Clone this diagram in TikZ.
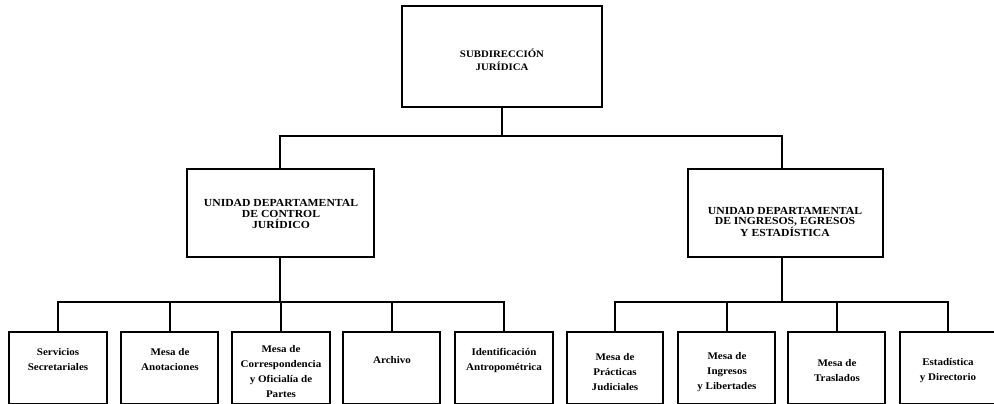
\documentclass[tikz,border=0pt]{standalone}
\usepackage{fontspec}
\setmainfont{Liberation Serif}[FakeStretch=1.08]
\begin{document}
\begin{tikzpicture}[x=1pt,y=-1pt,
  box/.style={draw=black,line width=2.8pt},
  conn/.style={draw=black,line width=1.6pt},
  captxt/.style={align=center,font=\fontsize{10.8}{10.8}\selectfont\bfseries,inner sep=0pt},
  toptxt/.style={align=center,font=\fontsize{10}{13.5}\selectfont\bfseries,inner sep=0pt},
  lowtxt/.style={align=center,font=\fontsize{10.2}{15}\selectfont\bfseries,inner sep=0pt}]
\useasboundingbox (0,0) rectangle (994,404);
\begin{scope}
\clip (0,0) rectangle (994,404);
% top
\draw[box] (402,6) rectangle (602,107);
\node[toptxt] (top) at (502,60) {SUBDIRECCIÓN\\JURÍDICA};
\coordinate (topb) at (502,107);
% mid
\draw[box] (187,169) rectangle (374,257);
\node[captxt] (ml) at (281,214) {UNIDAD DEPARTAMENTAL\\DE CONTROL\\JURÍDICO};
\draw[box] (688,169) rectangle (883,257);
\node[captxt] (mr) at (785,222) {UNIDAD DEPARTAMENTAL\\DE INGRESOS, EGRESOS\\Y ESTADÍSTICA};
\coordinate (mlt) at (280,169); \coordinate (mlb) at (280,257);
\coordinate (mrt) at (782,169); \coordinate (mrb) at (782,257);
% connectors top level
\coordinate (jt) at (502,136);
\draw[conn] (topb) -- (jt);
\draw[conn] (mlt) |- (jt) -| (mrt);
% bottom boxes
\foreach \n/\a/\b/\c in {b1/9/107/58,b2/121/218/170,b3/232/330/281,b4/343/440/392,b5/455/553/504,b6/567/663/615,b7/678/775/727,b8/788/885/837,b9/900/997/948}{
  \draw[box] (\a,332) rectangle (\b,404);
  \coordinate (\n t) at (\c,332);
}
\node[lowtxt] (t1) at (58,360) {Servicios\\Secretariales};
\node[lowtxt] (t2) at (170,360) {Mesa de\\Anotaciones};
\node[lowtxt] (t3) at (281,372) {Mesa de\\Correspondencia\\y Oficialía de\\Partes};
\node[lowtxt] (t4) at (392,360) {Archivo};
\node[lowtxt] (t5) at (504,360) {Identificación\\Antropométrica};
\node[lowtxt] (t6) at (615,372) {Mesa de\\Prácticas\\Judiciales};
\node[lowtxt] (t7) at (727,372) {Mesa de\\Ingresos\\y Libertades};
\node[lowtxt] (t8) at (837,371) {Mesa de\\Traslados};
\node[lowtxt] (t9) at (948,371) {Estadística\\y Directorio};
% connectors lower level
\coordinate (jl) at (280,302);
\coordinate (jr) at (782,302);
\draw[conn] (mlb) -- (jl);
\draw[conn] (mrb) -- (jr);
\draw[conn] (b1t) |- (jl) -| (b5t);
\foreach \n in {b2t,b3t,b4t} \draw[conn] (\n) -- (\n |- jl);
\draw[conn] (b6t) |- (jr) -| (b9t);
\foreach \n in {b7t,b8t} \draw[conn] (\n) -- (\n |- jr);
\end{scope}
\end{tikzpicture}
\end{document}
